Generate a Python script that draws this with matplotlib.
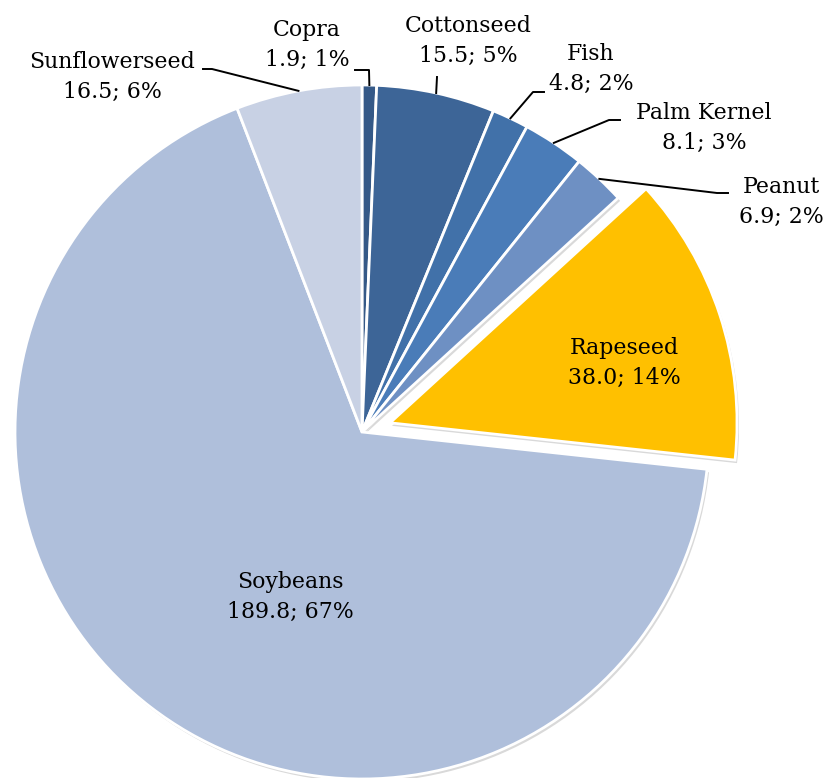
import numpy as np
import matplotlib
matplotlib.use("Agg")
import matplotlib.pyplot as plt

# oilseed meal production by source
sources = ["Copra", "Cottonseed", "Fish", "Palm Kernel", "Peanut",
           "Rapeseed", "Soybeans", "Sunflowerseed"]
values = [1.9, 15.5, 4.8, 8.1, 6.9, 38.0, 189.8, 16.5]
shares = [1, 5, 2, 3, 2, 14, 67, 6]

colors = ["#355987", "#3d6597", "#4171a9", "#4a7cb8", "#6e90c3",
          "#ffc000", "#afbfdb", "#c8d1e4"]

W, H = 829, 778
cx, cy, R = 362, H - 432, 347
# pie offsets are in data units, here pixels
explode = [0, 0, 0, 0, 0, 0.085 * R, 0, 0]

plt.rcParams["font.family"] = ["DejaVu Serif"]

fig = plt.figure(figsize=(W / 100, H / 100), dpi=100)
ax = fig.add_axes([0, 0, 1, 1])

# soft grey shadow under the slices
ax.pie(values, colors=["#d9d9d9"] * len(values), explode=explode, startangle=90,
       counterclock=False, radius=R, center=(cx + 2, cy - 3),
       wedgeprops=dict(linewidth=0))
wedges, _ = ax.pie(values, colors=colors, explode=explode, startangle=90,
                   counterclock=False, radius=R, center=(cx, cy),
                   wedgeprops=dict(edgecolor="white", linewidth=2))

ax.set_xlim(0, W)
ax.set_ylim(0, H)
ax.set_aspect("equal")
ax.axis("off")

labels = {s: f"{s}\n{v:.1f}; {p}%" for s, v, p in zip(sources, values, shares)}
fs = 15.8
ls = 1.42

# outside labels: text centre and leader elbow, in pixel coords from top-left
outside = {
    "Copra": ((307, 45), [(369, 70), (355, 70)]),
    "Sunflowerseed": ((112, 77), [(212, 69), (203, 69)]),
    "Cottonseed": ((468, 41), [(437, 77)]),
    "Fish": ((591, 69), [(533, 92), (544, 92)]),
    "Palm Kernel": ((704, 128), [(609, 120), (620, 120)]),
    "Peanut": ((781, 202), [(717, 193), (728, 193)]),
}

for w, name in zip(wedges, sources):
    mid = np.deg2rad((w.theta1 + w.theta2) / 2)
    if name in outside:
        (tx, ty), elbow = outside[name]
        x0 = cx + R * np.cos(mid)
        y0 = cy + R * np.sin(mid)
        xs = [x0] + [p[0] for p in elbow]
        ys = [y0] + [H - p[1] for p in elbow]
        ax.plot(xs, ys, color="black", lw=1.4)
        ax.text(tx, H - ty, labels[name], ha="center", va="center",
                fontsize=fs, linespacing=ls, color="black")

ax.text(624, H - 363, labels["Rapeseed"], ha="center", va="center",
        fontsize=fs, linespacing=ls, color="black")
ax.text(290, H - 597, labels["Soybeans"], ha="center", va="center",
        fontsize=fs, linespacing=ls, color="black")

fig.savefig("out.png", dpi=100)
